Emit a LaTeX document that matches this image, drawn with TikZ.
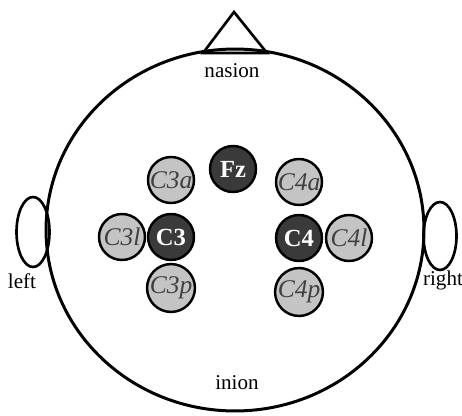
\documentclass[tikz,border=0pt]{standalone}
\usepackage{fontspec}
\setmainfont{Liberation Serif}
\definecolor{darkdot}{HTML}{3A3A3A}
\definecolor{lightdot}{HTML}{C4C4C4}
\definecolor{labelgray}{HTML}{404040}
\begin{document}
\begin{tikzpicture}[x=0.02cm,y=-0.02cm,
    electrode/.style={circle,draw,line width=1.4pt,minimum size=0.92cm,inner sep=0pt},
    mainel/.style={electrode,fill=darkdot,text=white,font=\fontsize{14}{14}\selectfont\bfseries},
    sideel/.style={electrode,fill=lightdot,text=labelgray,font=\fontsize{14.5}{14}\selectfont\itshape},
    tag/.style={font=\fontsize{12}{13}\selectfont,inner sep=0pt}]
            \useasboundingbox (0,0) rectangle (462,415);
            % head, nose and ears
            \draw [line width=1.7pt] (235,230) ellipse [x radius=3.78cm, y radius=3.62cm];
            \draw [line width=1.5pt,line join=miter] (203,53) -- (234,12) -- (267,53) -- cycle;
            \draw [line width=1.5pt] (33,232) ellipse [x radius=0.33cm, y radius=0.7cm];
            \draw [line width=1.5pt] (440,236) ellipse [x radius=0.33cm, y radius=0.68cm];
            \node [tag] (nasion) at (232,71) {nasion};
            \node [tag] (inion) at (237,383) {inion};
            \node [tag] (left) at (22,281) {left};
            \node [tag] (right) at (443,280) {right};
            % electrodes
            \node [mainel] (fz) at (233,169) {Fz};
            \node [mainel] (c3) at (171,237) {C3};
            \node [sideel] (c3a) at (171,180) {C3a};
            \node [sideel] (c3l) at (122,237) {C3l};
            \node [sideel] (c3p) at (171,288) {C3p};
            \node [mainel] (c4) at (299,238) {C4};
            \node [sideel] (c4a) at (299,182) {C4a};
            \node [sideel] (c4l) at (349,238) {C4l};
            \node [sideel] (c4p) at (299,292) {C4p};
        \end{tikzpicture}
\end{document}
